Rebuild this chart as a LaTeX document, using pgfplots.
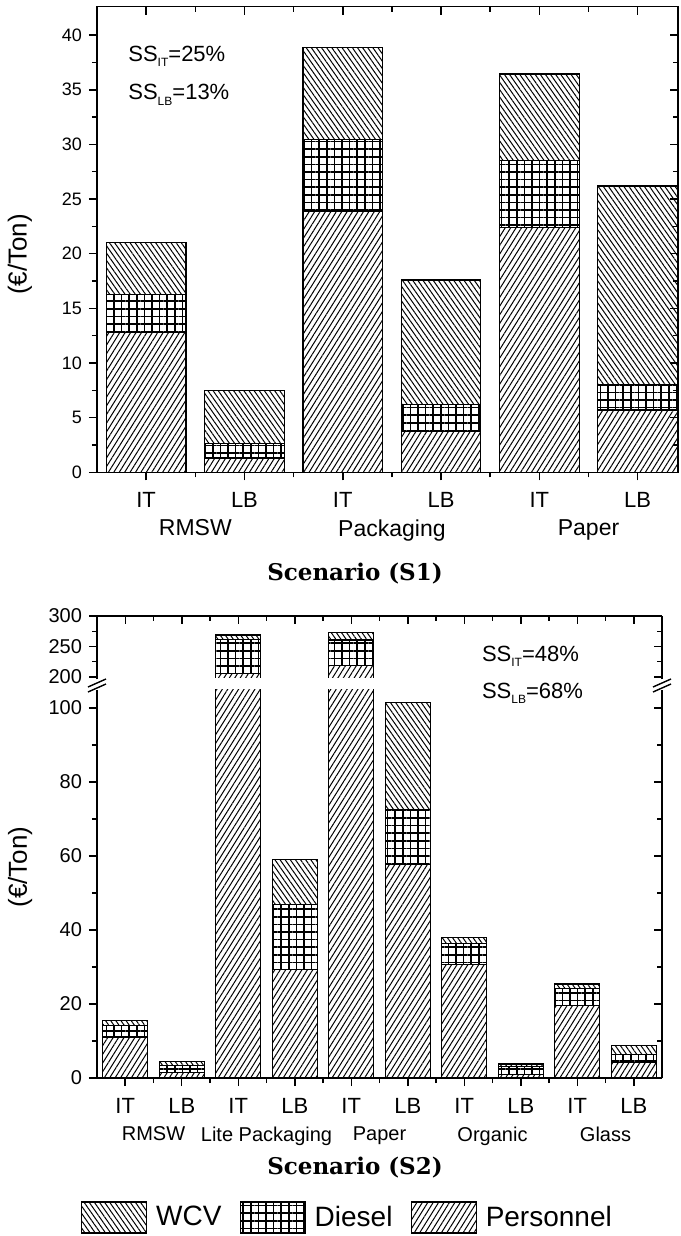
\documentclass[border=0pt]{standalone}
\usepackage{fontspec}
\setmainfont{Liberation Sans}
\newfontfamily\scenfont{DejaVu Serif}
\usepackage{pgfplots}
\pgfplotsset{compat=1.18}
\usetikzlibrary{patterns.meta}

\newcommand{\fs}[1]{\fontsize{#1}{#1}\selectfont}
\newcommand{\sub}[1]{\raisebox{-2.5pt}{\fs{6}#1}}

\pgfplotsset{
  pers/.style={draw=black, line width=0.6pt,
    pattern={Lines[angle=58,distance=2.3pt,line width=0.5pt]}},
  dies/.style={draw=black, line width=0.6pt,
    pattern={Hatch[angle=0,distance=3.8pt,line width=0.8pt]}},
  wcv/.style={draw=black, line width=0.6pt,
    pattern={Lines[angle=-55,distance=2.1pt,line width=0.5pt]}},
  boxleg/.style={legend image code/.code={\draw[##1] (0pt,-7.75pt) rectangle (32.5pt,7.75pt);}},
  frame/.style={scale only axis, axis line style={line width=0.75pt},
    major tick length=4pt, minor tick length=2.5pt,
    tick style={black, line width=0.75pt},
    /pgf/number format/assume math mode=true},
  mirror/.style={frame, tick align=inside, xtick pos=right, ytick pos=right,
    xticklabels={}, yticklabels={}, axis line style={draw=none}},
}

\begin{document}
\begin{tikzpicture}
\path[use as bounding box] (0,0) rectangle (340pt,-618pt);

% ---- Scenario S1 ----
\begin{axis}[frame, at={(48.5pt,-236.15pt)}, anchor=south west,
  width=290.5pt, height=232.8pt,
  xmin=0.5, xmax=6.41, ymin=0, ymax=42.6,
  ybar stacked, bar width=0.81,
  tick align=outside, xtick pos=left, ytick pos=left,
  xtick={1,...,6}, xticklabels={IT,LB,IT,LB,IT,LB}, minor x tick num=1,
  ytick={0,5,...,40}, minor y tick num=1,
  yticklabel style={font=\fs{9}},
  xticklabel style={font=\fs{11}, yshift=-2.6pt},
  extra x ticks={1.5,3.5,5.5}, extra x tick labels={RMSW,Packaging,Paper},
  extra x tick style={major tick length=0pt, xticklabel style={font=\fs{11.5}, yshift=-17.5pt}},
  ylabel={(€/Ton)},
  every axis y label/.style={at={(axis description cs:-0.1325,0.468)}, rotate=90, anchor=center, font=\fs{13}},
]
\addplot[pers] coordinates {(1,12.8) (2,1.3) (3,23.9) (4,3.7) (5,22.4) (6,5.7)};
\addplot[dies] coordinates {(1,3.5) (2,1.35) (3,6.55) (4,2.5) (5,6.1) (6,2.3)};
\addplot[wcv] coordinates {(1,4.7) (2,4.8) (3,8.45) (4,11.4) (5,7.95) (6,18.2)};
\end{axis}
\begin{axis}[mirror, at={(48.5pt,-236.15pt)}, anchor=south west,
  width=290.5pt, height=232.8pt,
  xmin=0.5, xmax=6.41, ymin=0, ymax=42.6,
  xtick={1,...,6}, minor x tick num=1,
  ytick={0,5,...,40}, minor y tick num=1]
\end{axis}

\node[anchor=base west, inner sep=0pt, font=\fs{11}] at (64pt,-30.8pt) {SS\sub{IT}=25\%};
\node[anchor=base west, inner sep=0pt, font=\fs{11}] at (64pt,-50pt) {SS\sub{LB}=13\%};
\node[font=\scenfont\bfseries\fs{11.5}] at (177.5pt,-287pt) {Scenario (S1)};

% ---- Scenario S2, upper part ----
\begin{axis}[frame, at={(48.5pt,-308pt)}, anchor=north west,
  width=282.5pt, height=31.65pt,
  xmin=0.5, xmax=10.5, ymin=196.2, ymax=300,
  ybar stacked, bar width=0.8,
  axis x line=top, axis y line=box, x axis line style={-}, y axis line style={-},
  xtick=\empty, tick align=outside, ytick pos=left,
  ytick={200,250,300}, minor y tick num=1, yticklabel style={font=\fs{10}},
]
\addplot[pers] coordinates {(3,206) (5,219)};
\addplot[dies] coordinates {(3,55) (5,41.6)};
\addplot[wcv] coordinates {(3,8) (5,12)};
\end{axis}
\begin{axis}[mirror, at={(48.5pt,-308pt)}, anchor=north west,
  width=282.5pt, height=31.65pt,
  xmin=0.5, xmax=10.5, ymin=196.2, ymax=300,
  xtick={1,...,10}, minor x tick num=1,
  ytick={200,250,300}, minor y tick num=1]
\end{axis}
% open lower edge of the broken part
\fill[white] (49pt,-340.4pt) rectangle (330.5pt,-338.95pt);

% ---- Scenario S2, lower part ----
\begin{axis}[frame, at={(48.5pt,-539pt)}, anchor=south west,
  width=282.5pt, height=194.25pt,
  xmin=0.5, xmax=10.5, ymin=0, ymax=105,
  ybar stacked, bar width=0.8,
  axis x line=bottom, axis y line=box, x axis line style={-}, y axis line style={-},
  tick align=outside, ytick pos=left,
  xtick={1,...,10}, xticklabels={IT,LB,IT,LB,IT,LB,IT,LB,IT,LB}, minor x tick num=1,
  ytick={0,20,...,100}, minor y tick num=1,
  yticklabel style={font=\fs{10}},
  xticklabel style={font=\fs{11}, yshift=-2.6pt},
  extra x ticks={1.5,3.5,5.5,7.5,9.5},
  extra x tick labels={RMSW,Lite Packaging,Paper,Organic,Glass},
  extra x tick style={major tick length=0pt, xticklabel style={font=\fs{10}, yshift=-18.3pt}},
  ylabel={(€/Ton)},
  every axis y label/.style={at={(axis description cs:-0.136,0.543)}, rotate=90, anchor=center, font=\fs{13}},
  legend style={at={(axis description cs:0.445,-0.359)}, anchor=center, draw=none,
    legend columns=3, font=\fs{14},
    /tikz/every odd column/.append style={column sep=2.5pt},
    /tikz/every even column/.append style={column sep=7pt}},
]
\addlegendimage{wcv, boxleg}
\addlegendimage{dies, boxleg}
\addlegendimage{pers, boxleg}
\addplot[pers] coordinates {(1,11.1) (2,1.5) (3,206) (4,29.3) (5,219) (6,57.7) (7,30.6) (8,1.0) (9,19.7) (10,4.3)};
\addplot[dies] coordinates {(1,3.1) (2,1.8) (3,55) (4,17.5) (5,41.6) (6,14.8) (7,5.8) (8,2.2) (9,4.6) (10,2.1)};
\addplot[wcv] coordinates {(1,1.3) (2,1.2) (3,8) (4,12.2) (5,12) (6,29) (7,1.5) (8,0.6) (9,1.1) (10,2.4)};
\legend{WCV,Diesel,Personnel}
\end{axis}
\begin{axis}[mirror, at={(48.5pt,-539pt)}, anchor=south west,
  width=282.5pt, height=194.25pt,
  xmin=0.5, xmax=10.5, ymin=0, ymax=105,
  xtick=\empty, ytick={0,20,...,100}, minor y tick num=1]
\end{axis}

% axis break marks
\foreach \bx in {48.5pt,331pt}{
  \draw[line width=0.7pt] ([xshift=-4.5pt]\bx,-343.5pt) -- ([xshift=4.5pt]\bx,-339.5pt);
  \draw[line width=0.7pt] ([xshift=-4.5pt]\bx,-346pt) -- ([xshift=4.5pt]\bx,-342pt);
}

\node[anchor=base west, inner sep=0pt, font=\fs{11}] at (240.8pt,-330.8pt) {SS\sub{IT}=48\%};
\node[anchor=base west, inner sep=0pt, font=\fs{11}] at (240.8pt,-349.2pt) {SS\sub{LB}=68\%};
\node[font=\scenfont\bfseries\fs{11.5}] at (177.5pt,-584pt) {Scenario (S2)};
\end{tikzpicture}
\end{document}
